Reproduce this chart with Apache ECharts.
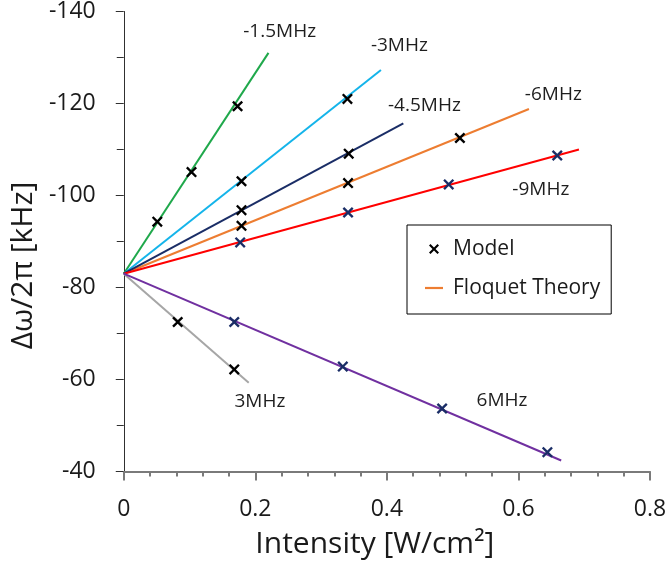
<!DOCTYPE html>
<html>
<head>
<meta charset="utf-8">
<script src="https://cdn.jsdelivr.net/npm/echarts@6/dist/echarts.min.js"></script>
<style>
html,body{margin:0;padding:0;background:#fff;}
#chart{width:671px;height:572px;}
</style>
</head>
<body>
<div id="chart"></div>
<script>
// ---- data ----
const xTicks = [0, 0.2, 0.4, 0.6, 0.8];
const yTicks = [-140, -120, -100, -80, -60, -40];
const origin = [0, -83];

const lineNames = ['-1.5MHz', '-3MHz', '-4.5MHz', '-6MHz', '-9MHz', '3MHz', '6MHz'];
const lineEndX = [0.220, 0.391, 0.425, 0.616, 0.692, 0.190, 0.665];
const lineEndY = [-131.0, -127.3, -115.7, -118.8, -110.0, -59.3, -42.4];

const labelX = [0.237, 0.419, 0.457, 0.653, 0.634, 0.207, 0.575];
const labelY = [-135.6, -132.6, -119.6, -122.0, -101.2, -55.2, -55.5];

const modelM1p5 = [[0.051, -94.3], [0.103, -105.1], [0.173, -119.4]];
const modelM3 = [[0.179, -103.1], [0.340, -121.0]];
const modelM4p5 = [[0.179, -96.8], [0.342, -109.1]];
const modelM6 = [[0.179, -93.4], [0.341, -102.7], [0.511, -112.5]];
const modelM9 = [[0.177, -89.8], [0.341, -96.3], [0.494, -102.4], [0.659, -108.7]];
const modelP3 = [[0.082, -72.5], [0.168, -62.2]];
const modelP6 = [[0.168, -72.5], [0.333, -62.8], [0.484, -53.7], [0.644, -44.2]];

// ---- styles ----
const lineColors = ['#1fa84b', '#14b4ea', '#1a2d66', '#ed7d31', '#ff0000', '#a6a6a6', '#7030a0'];
const FONT = 'Open Sans';
const TXT = '#1a1a1a';
const xPath = 'path://M0,1.5L1.5,0L5,3.5L8.5,0L10,1.5L6.5,5L10,8.5L8.5,10L5,6.5L1.5,10L0,8.5L3.5,5Z';
const barPath = 'path://M0,0H18V2.2H0Z';

const series = [];
// draw orange first so legend picks its colour too
const order = [3, 0, 1, 2, 4, 5, 6];
order.forEach(i => {
  series.push({
    name: 'Floquet Theory',
    type: 'line',
    data: [origin, [lineEndX[i], lineEndY[i]]],
    showSymbol: false,
    symbol: 'none',
    lineStyle: { color: lineColors[i], width: 2 },
    itemStyle: { color: lineColors[i] },
    silent: true,
    z: 2
  });
});

const blackSets = [modelM1p5, modelM3, modelM4p5, modelM6, modelP3];
const navySets = [modelM9, modelP6];
series.push({
  name: 'Model',
  type: 'scatter',
  data: [].concat(...blackSets),
  symbol: xPath,
  symbolSize: 11,
  itemStyle: { color: '#000000', opacity: 1 },
  silent: true,
  z: 5
});
series.push({
  name: 'Model ',
  type: 'scatter',
  data: [].concat(...navySets),
  symbol: xPath,
  symbolSize: 11,
  itemStyle: { color: '#1a2d66', opacity: 1 },
  silent: true,
  z: 5
});

series.push({
  name: 'labels',
  type: 'scatter',
  data: lineNames.map((n, i) => ({ name: n, value: [labelX[i], labelY[i]] })),
  symbolSize: 0,
  silent: true,
  itemStyle: { opacity: 1 },
  label: {
    show: true,
    position: 'inside',
    formatter: p => p.name,
    fontFamily: FONT,
    fontSize: 19,
    color: '#1e1e1e',
    opacity: 1
  },
  z: 6
});

const chart = echarts.init(document.getElementById('chart'), null, { renderer: 'canvas' });
chart.setOption({
  animation: false,
  backgroundColor: '#ffffff',
  textStyle: { fontFamily: FONT },
  grid: { left: 121, right: 21, top: 11, bottom: 100.5, containLabel: false },
  legend: {
    orient: 'vertical',
    left: 407,
    top: 225,
    padding: [12, 11, 14, 18],
    itemGap: 15,
    itemWidth: 18,
    itemHeight: 10,
    backgroundColor: '#ffffff',
    borderColor: '#000000',
    borderWidth: 1,
    borderRadius: 0,
    selectedMode: false,
    textStyle: { fontFamily: FONT, fontSize: 21, color: TXT, lineHeight: 24, padding: [0, 0, 0, 5] },
    data: [
      { name: 'Model', icon: xPath, itemStyle: { color: '#000000' } },
      { name: 'Floquet Theory', icon: barPath, itemStyle: { color: '#ed7d31' } }
    ]
  },
  xAxis: {
    type: 'value',
    min: xTicks[0],
    max: xTicks[xTicks.length - 1],
    interval: 0.2,
    name: 'Intensity [W/cm²]',
    nameLocation: 'middle',
    nameGap: 58,
    nameTextStyle: { fontFamily: FONT, fontSize: 30, color: TXT, padding: [0, 24, 0, 0] },
    axisLine: { show: true, lineStyle: { color: '#7a7a7a', width: 2 } },
    axisTick: { show: true, length: 9, lineStyle: { color: '#7a7a7a', width: 2 } },
    minorTick: { show: true, splitNumber: 5, length: 5, lineStyle: { color: '#7a7a7a', width: 2 } },
    axisLabel: { fontFamily: FONT, fontSize: 23, color: TXT, margin: 26 },
    splitLine: { show: false },
    minorSplitLine: { show: false }
  },
  yAxis: {
    type: 'value',
    inverse: true,
    min: yTicks[0],
    max: yTicks[yTicks.length - 1],
    interval: 20,
    name: 'Δω/2π [kHz]',
    nameLocation: 'middle',
    nameGap: 84,
    nameTextStyle: { fontFamily: FONT, fontSize: 30, color: TXT, padding: [0, 48, 0, 0] },
    axisLine: { show: true, lineStyle: { color: '#303030', width: 1 } },
    axisTick: { show: true, length: 8, lineStyle: { color: '#303030', width: 1 } },
    minorTick: { show: true, splitNumber: 2, length: 7, lineStyle: { color: '#303030', width: 1 } },
    axisLabel: { fontFamily: FONT, fontSize: 23, color: TXT, margin: 28 },
    splitLine: { show: false },
    minorSplitLine: { show: false }
  },
  series: series
});
</script>
</body>
</html>
